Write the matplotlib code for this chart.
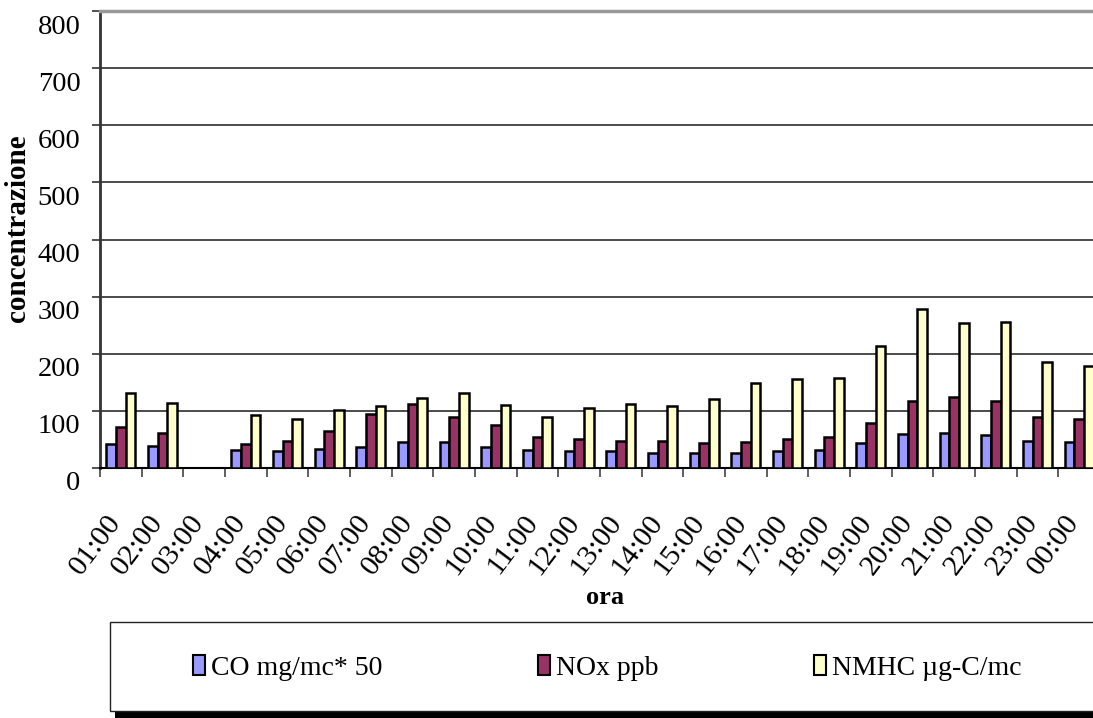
import numpy as np
import matplotlib
matplotlib.use('Agg')
import matplotlib.pyplot as plt
import matplotlib.patches as mpatches
import matplotlib.transforms as mtransforms

plt.rcParams['font.family'] = ['Liberation Serif', 'DejaVu Serif']

# ---------------------------------------------------------------------------
# Dati: concentrazioni orarie
# ---------------------------------------------------------------------------
ore = ['01:00', '02:00', '03:00', '04:00', '05:00', '06:00', '07:00', '08:00',
       '09:00', '10:00', '11:00', '12:00', '13:00', '14:00', '15:00', '16:00',
       '17:00', '18:00', '19:00', '20:00', '21:00', '22:00', '23:00', '00:00']

co_x50 = [42, 38, np.nan, 31, 30, 33, 37, 45, 45, 37, 32, 30,
          29, 27, 26, 26, 29, 31, 43, 60, 62, 57, 47, 45]
nox_ppb = [71, 62, np.nan, 42, 47, 64, 95, 112, 89, 75, 55, 51,
           47, 48, 43, 45, 51, 54, 79, 117, 125, 117, 90, 85]
nmhc = [131, 114, np.nan, 93, 86, 101, 108, 123, 131, 110, 90, 105,
        112, 109, 121, 149, 156, 157, 214, 278, 254, 256, 186, 178]

serie = [
    ('CO mg/mc* 50', co_x50, '#9999FF'),
    ('NOx ppb', nox_ppb, '#993366'),
    ('NMHC µg-C/mc', nmhc, '#FFFFCC'),
]

W, H = 1093, 718
fig = plt.figure(figsize=(W / 100, H / 100), dpi=100)
ax = fig.add_axes([100 / W, 1 - 468 / H, 1000 / W, 457 / H])

x = np.arange(len(ore))
larg = 0.232
for k, (nome, valori, colore) in enumerate(serie):
    ax.bar(x + (k - 1) * larg, valori, width=larg, color=colore,
           edgecolor='black', linewidth=1.8, label=nome, zorder=3)

ax.set_xlim(-0.5, len(ore) - 0.5)
ax.set_ylim(0, 800)

# griglia orizzontale
ax.set_yticks(range(0, 801, 100))
ax.yaxis.grid(True, color='#1a1a1a', linewidth=1.1)
ax.set_axisbelow(True)

ax.spines['right'].set_visible(False)
ax.spines['top'].set_color('#999999')
ax.spines['top'].set_linewidth(2.5)
ax.spines['left'].set_color('#333333')
ax.spines['left'].set_linewidth(2)
ax.spines['bottom'].set_color('black')
ax.spines['bottom'].set_linewidth(1.5)

ax.tick_params(axis='y', direction='out', length=6, width=1.2, color='#333333',
               pad=8, labelsize=20.5)
scarto_y = mtransforms.ScaledTranslation(0, -13 / 100, fig.dpi_scale_trans)
for lab in ax.get_yticklabels():
    lab.set_transform(lab.get_transform() + scarto_y)

# tacche x ai confini di categoria, etichette al centro
ax.set_xticks(x)
ax.set_xticks(np.arange(-0.5, len(ore)), minor=True)
ax.tick_params(axis='x', which='major', length=0, pad=30, labelsize=21.5)
ax.tick_params(axis='x', which='minor', direction='out', length=6.5,
               width=1.2, color='#444444')
ax.set_xticklabels(ore, rotation=53, ha='right', va='top', rotation_mode='anchor')
scarto_x = mtransforms.ScaledTranslation(-15 / 100, 0, fig.dpi_scale_trans)
for lab in ax.get_xticklabels():
    lab.set_transform(lab.get_transform() + scarto_x)

fig.text(605 / W, 1 - 597 / H, 'ora', ha='center', va='center',
         fontsize=19, fontweight='bold')
fig.text(18 / W, 1 - 228 / H, 'concentrazione', ha='center', va='center',
         rotation=90, fontsize=21, fontweight='bold')

# riquadro legenda con ombra nera
ombra = mpatches.Rectangle((115 / W, 1 - 718 / H), 1000 / W, 91 / H,
                           transform=fig.transFigure, facecolor='black',
                           edgecolor='none', zorder=1)
cornice = mpatches.Rectangle((110 / W, 1 - 711 / H), 1000 / W, 89 / H,
                             transform=fig.transFigure, facecolor='white',
                             edgecolor='#222222', linewidth=1, zorder=2)
fig.patches.extend([ombra, cornice])

maniglie = [mpatches.Patch(facecolor=c, edgecolor='black', linewidth=1.5, label=n)
            for n, _, c in serie]
leg = fig.legend(handles=maniglie, loc='center', bbox_to_anchor=(607 / W, 1 - 668 / H),
                 ncol=3, frameon=False, fontsize=20, handlelength=0.45,
                 handleheight=0.7, handletextpad=0.2, columnspacing=5.6)
leg.set_zorder(5)

fig.savefig('out.png', dpi=100)
